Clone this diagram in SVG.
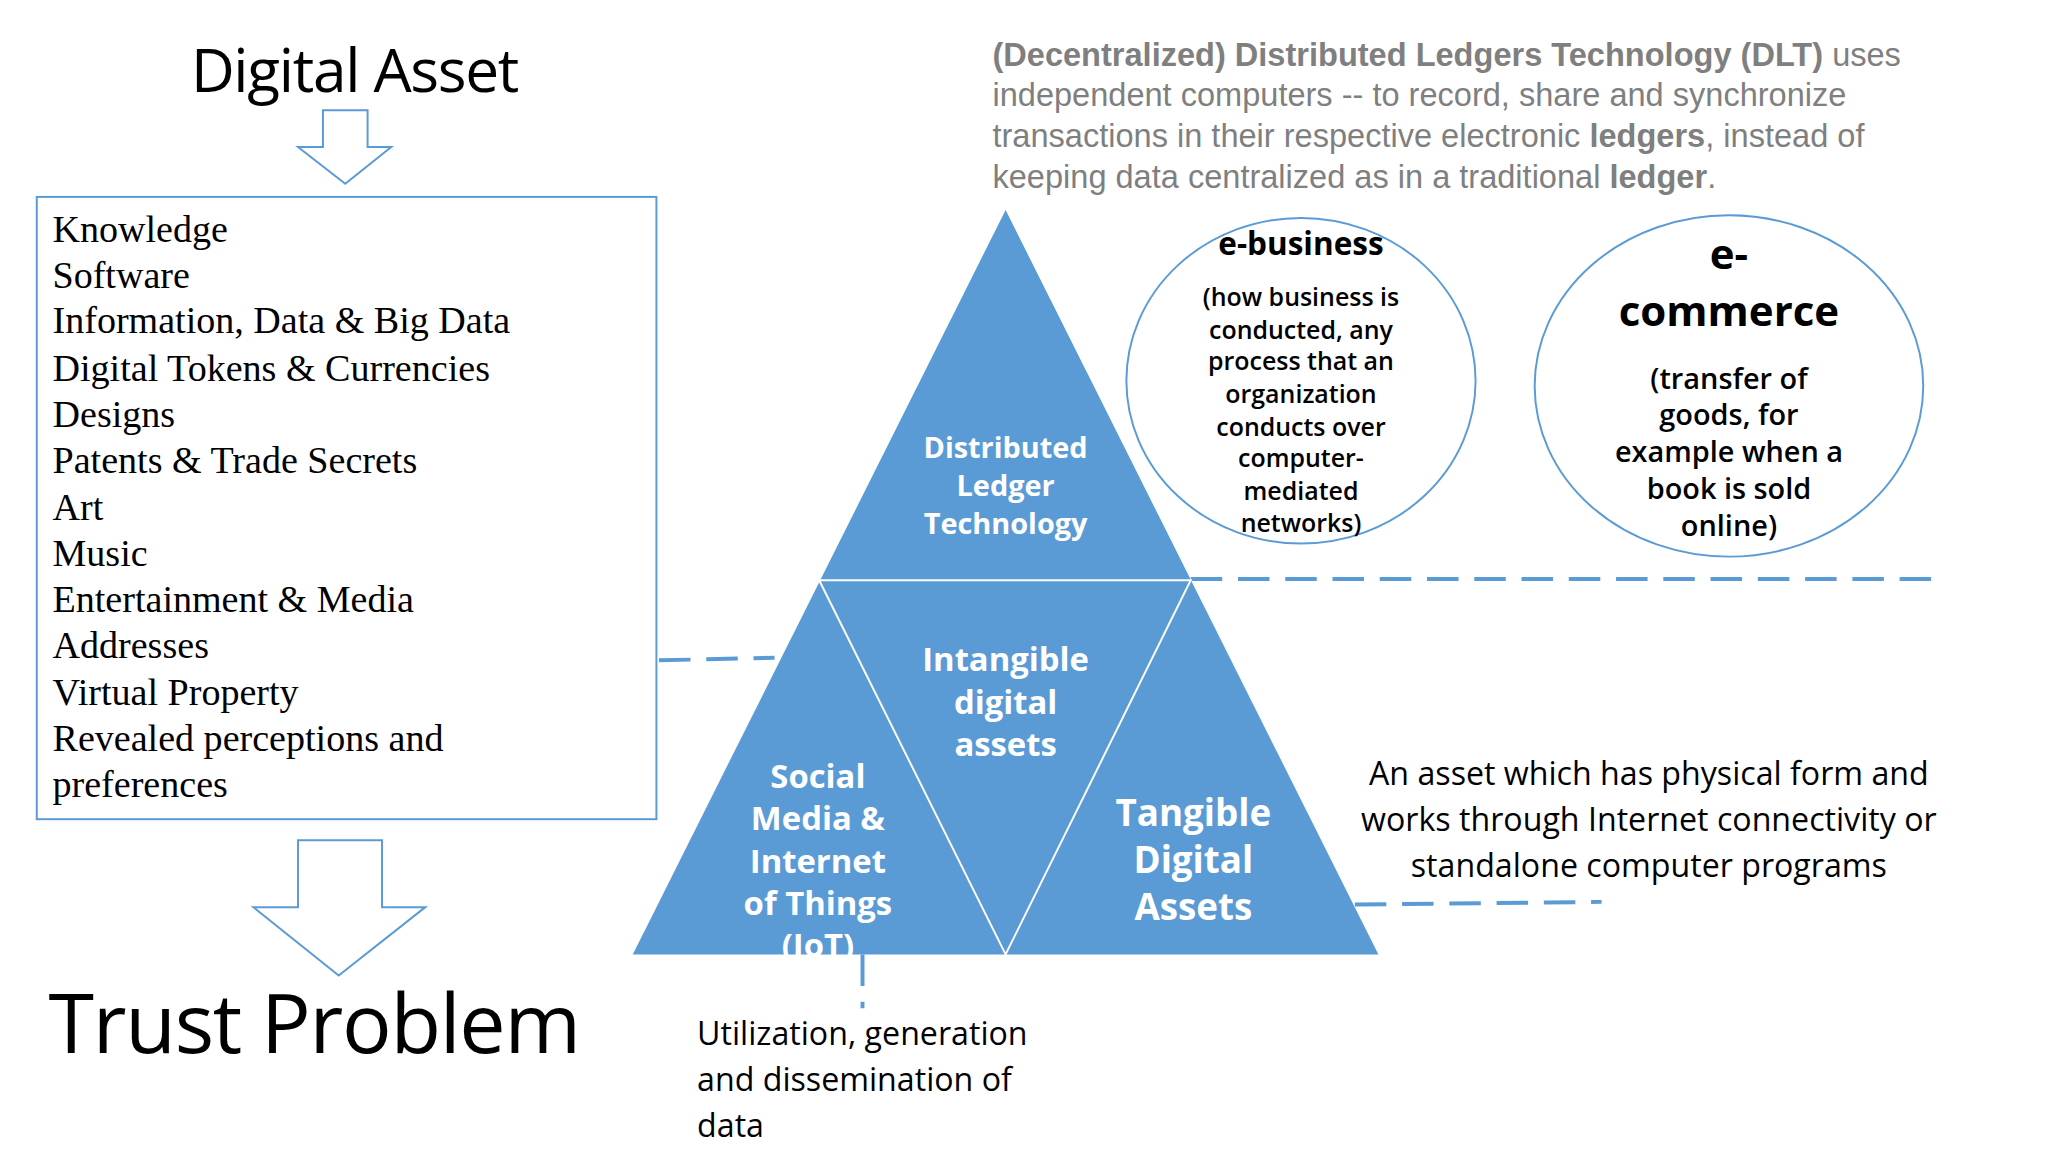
<svg xmlns="http://www.w3.org/2000/svg" width="2048" height="1152" viewBox="0 0 2048 1152">
<style>
.cal{font-family:"Open Sans","Noto Sans",sans-serif}
.ser{font-family:"Liberation Serif","DejaVu Serif",serif;font-size:29px;fill:#000}
.w{fill:#fff;font-family:"Open Sans","Noto Sans",sans-serif;font-weight:bold;text-anchor:middle}
.dash{stroke:#5b9bd5;stroke-width:3;stroke-dasharray:24 12;fill:none}
.arr{fill:#fff;stroke:#5b9bd5;stroke-width:1.5}
.gray{font-family:"Liberation Sans",Arial,sans-serif;font-size:24.8px;fill:#7f7f7f}
</style>
<rect width="2048" height="1152" fill="#fff"/>
<g transform="scale(1.3128)">
<g id="title"><text class="cal" x="270" y="70" font-size="46" text-anchor="middle" letter-spacing="-1">Digital Asset</text></g>
<g id="arrow1"><polygon class="arr" points="246,84 280,84 280,112 298,112 263,140 227,112 246,112"/></g>
<g id="list">
<rect x="28" y="150" width="472" height="474" fill="#fff" stroke="#5b9bd5" stroke-width="1.5"/>
<text class="ser" x="40" y="184">Knowledge</text>
<text class="ser" x="40" y="219">Software</text>
<text class="ser" x="40" y="254">Information, Data &amp; Big Data</text>
<text class="ser" x="40" y="290">Digital Tokens &amp; Currencies</text>
<text class="ser" x="40" y="325">Designs</text>
<text class="ser" x="40" y="360">Patents &amp; Trade Secrets</text>
<text class="ser" x="40" y="396">Art</text>
<text class="ser" x="40" y="431">Music</text>
<text class="ser" x="40" y="466">Entertainment &amp; Media</text>
<text class="ser" x="40" y="501">Addresses</text>
<text class="ser" x="40" y="537">Virtual Property</text>
<text class="ser" x="40" y="572">Revealed perceptions and</text>
<text class="ser" x="40" y="607">preferences</text>
</g>
<g id="arrow2"><polygon class="arr" points="227,640 291,640 291,691 324,691 258,743 193,691 227,691"/></g>
<g id="trust"><text class="cal" x="37" y="802" font-size="63" letter-spacing="-1">Trust Problem</text></g>
<g id="dlt-text" class="gray">
<text x="756" y="50"><tspan font-weight="bold">(Decentralized) Distributed Ledgers Technology (DLT)</tspan> uses</text>
<text x="756" y="81">independent computers -- to record, share and synchronize</text>
<text x="756" y="112">transactions in their respective electronic <tspan font-weight="bold">ledgers</tspan>, instead of</text>
<text x="756" y="143">keeping data centralized as in a traditional <tspan font-weight="bold">ledger</tspan>.</text>
</g>
<g id="connectors">
<line class="dash" x1="502" y1="503" x2="590" y2="501"/>
<line class="dash" x1="907" y1="441" x2="1478" y2="441"/>
<line class="dash" x1="1032" y1="689" x2="1220" y2="687"/>
<line class="dash" x1="657" y1="727" x2="657" y2="768"/>
</g>
<g id="pyramid">
<polygon points="766,160 1050,727 482,727" fill="#5b9bd5"/>
<polyline points="624,442 907,442 766,727 624,442" fill="none" stroke="#fff" stroke-width="1.5"/>
</g>
<g id="dlt"><text class="w" font-size="22" font-weight="600"><tspan x="766" y="349">Distributed</tspan><tspan x="766" y="378">Ledger</tspan><tspan x="766" y="407">Technology</tspan></text></g>
<g id="intangible"><text class="w" font-size="25"><tspan x="766" y="511">Intangible</tspan><tspan x="766" y="544">digital</tspan><tspan x="766" y="576">assets</tspan></text></g>
<g id="social"><text class="w" font-size="25"><tspan x="623" y="600">Social</tspan><tspan x="623" y="632">Media &amp;</tspan><tspan x="623" y="665">Internet</tspan><tspan x="623" y="697">of Things</tspan><tspan x="623" y="729">(IoT)</tspan></text></g>
<g id="tangible"><text class="w" font-size="28"><tspan x="909" y="629">Tangible</tspan><tspan x="909" y="665">Digital</tspan><tspan x="909" y="701">Assets</tspan></text></g>
<g id="ebusiness">
<ellipse cx="991" cy="290" rx="133" ry="124" fill="none" stroke="#5b9bd5" stroke-width="1.5"/>
<text class="cal" x="991" y="194" font-size="24" font-weight="bold" text-anchor="middle">e-business</text>
<text class="cal" font-size="19" font-weight="600" text-anchor="middle"><tspan x="991" y="233">(how business is</tspan><tspan x="991" y="258">conducted, any</tspan><tspan x="991" y="282">process that an</tspan><tspan x="991" y="307">organization</tspan><tspan x="991" y="332">conducts over</tspan><tspan x="991" y="356">computer-</tspan><tspan x="991" y="381">mediated</tspan><tspan x="991" y="405">networks)</tspan></text>
</g>
<g id="ecommerce">
<ellipse cx="1317" cy="294" rx="148" ry="130" fill="none" stroke="#5b9bd5" stroke-width="1.5"/>
<text class="cal" font-weight="bold" text-anchor="middle" font-size="32"><tspan x="1317" y="205">e-</tspan><tspan x="1317" y="248">commerce</tspan></text>
<text class="cal" font-size="22" font-weight="600" text-anchor="middle"><tspan x="1317" y="296">(transfer of</tspan><tspan x="1317" y="324">goods, for</tspan><tspan x="1317" y="352">example when a</tspan><tspan x="1317" y="380">book is sold</tspan><tspan x="1317" y="408">online)</tspan></text>
</g>
<g id="tangible-note"><text class="cal" font-size="24.5" text-anchor="middle"><tspan x="1256" y="598">An asset which has physical form and</tspan><tspan x="1256" y="633">works through Internet connectivity or</tspan><tspan x="1256" y="668">standalone computer programs</tspan></text></g>
<g id="social-note"><text class="cal" font-size="24.5"><tspan x="531" y="796">Utilization, generation</tspan><tspan x="531" y="831">and dissemination of</tspan><tspan x="531" y="866">data</tspan></text></g>
</g>
</svg>
